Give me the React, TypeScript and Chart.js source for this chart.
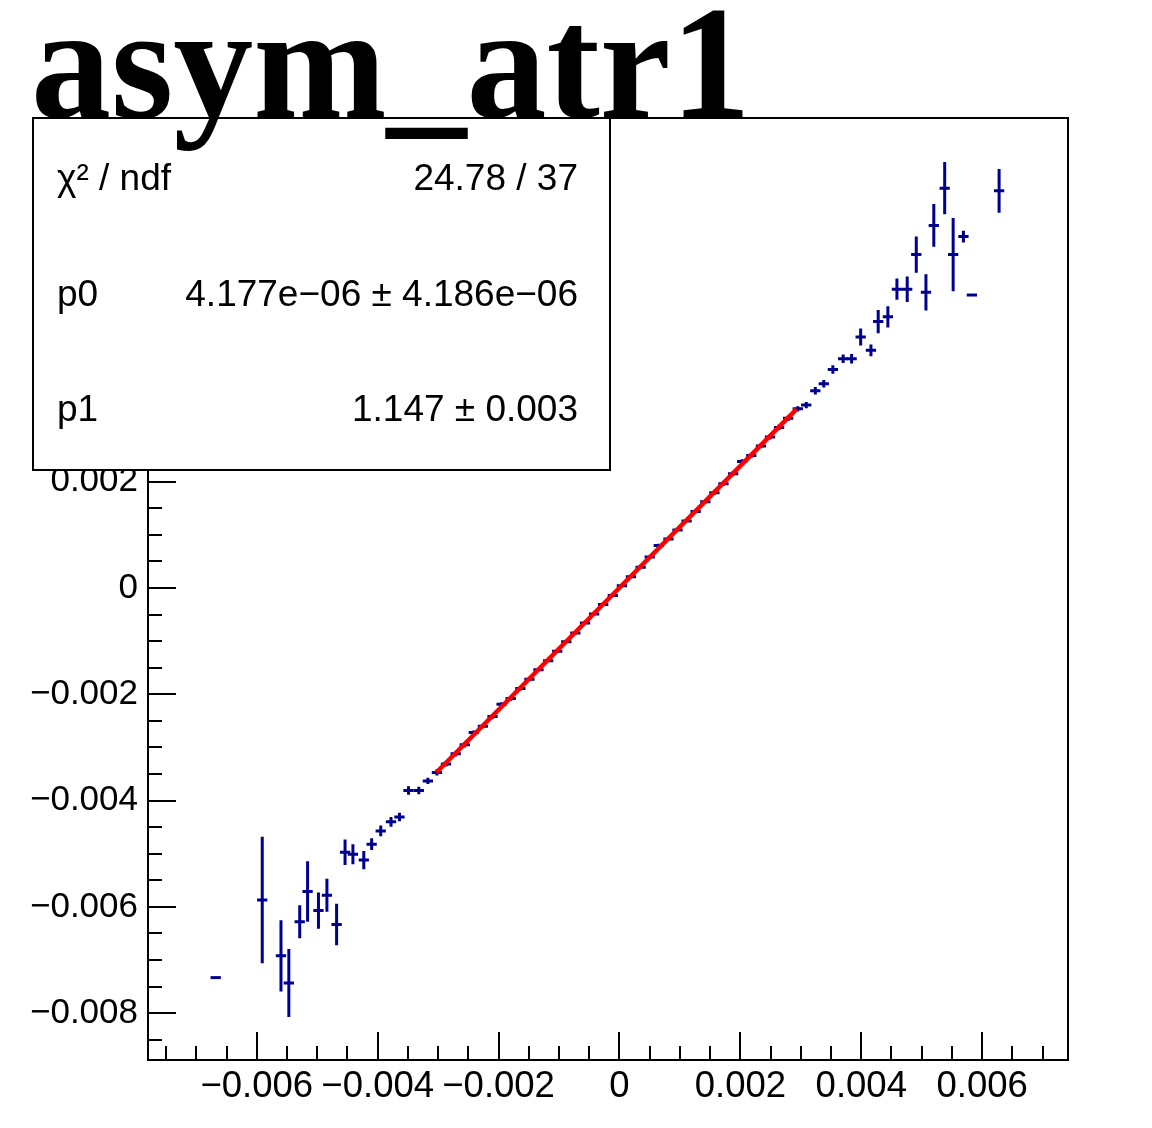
import React, { useEffect, useRef } from "react";
import { Chart, registerables } from "chart.js";

Chart.register(...registerables);

const TITLE = "asym_atr1";

// Histogram bin centres (x), contents (y) and vertical errors
const xValues = [
  -0.00668, -0.00591, -0.0056, -0.00547, -0.00529, -0.00516, -0.00498, -0.00484, -0.00468, -0.00454,
  -0.00441, -0.00423, -0.0041, -0.00395, -0.00378, -0.00364, -0.00349, -0.00332, -0.00317,
  -0.00302, -0.00287, -0.00271, -0.00256, -0.00241, -0.00226, -0.0021, -0.00195, -0.0018, -0.00164,
  -0.00149, -0.00134, -0.00118, -0.00103, -0.00088, -0.00073, -0.00057, -0.00042, -0.00027, -0.00011,
  0.00004, 0.00019, 0.00035, 0.0005, 0.00065, 0.00081, 0.00096, 0.00111, 0.00126, 0.00142,
  0.00157, 0.00172, 0.00188, 0.00203, 0.00218, 0.00234, 0.00249, 0.00264, 0.00279, 0.00295,
  0.00309, 0.00324, 0.00338, 0.00353, 0.0037, 0.00384, 0.00399, 0.00416, 0.00428, 0.00444,
  0.00459, 0.00476, 0.00491, 0.00507, 0.0052, 0.00538, 0.00552, 0.00569, 0.00583, 0.00628,
];
const yValues = [
  -0.00733, -0.00587, -0.00692, -0.00743, -0.00628, -0.00571, -0.00607, -0.00578, -0.00633, -0.00497,
  -0.00501, -0.00512, -0.00482, -0.00457, -0.0044, -0.00431, -0.00381, -0.00381, -0.00363,
  -0.00347, -0.00331, -0.00312, -0.00295, -0.00272, -0.0026, -0.00242, -0.00219, -0.00208, -0.00189,
  -0.00172, -0.00154, -0.00137, -0.00119, -0.00101, -0.00085, -0.00066, -0.00049, -0.00031, -0.00014,
  0.00004, 0.00021, 0.00039, 0.00058, 0.0008, 0.00092, 0.00109, 0.00126, 0.00144, 0.00162,
  0.00179, 0.00196, 0.00215, 0.00238, 0.00249, 0.00267, 0.00284, 0.00302, 0.00319, 0.00337,
  0.00344, 0.00371, 0.00384, 0.00411, 0.00431, 0.00431, 0.00472, 0.00447, 0.00501, 0.0051,
  0.00562, 0.00562, 0.00627, 0.00556, 0.00682, 0.00752, 0.00627, 0.00661, 0.00551, 0.00747,
];
const yErrors = [
  0, 0.00119, 0.00067, 0.00064, 0.00031, 0.00057, 0.00034, 0.00031, 0.00039, 0.00024,
  0.00019, 0.00017, 0.00011, 0.0001, 0.00009, 0.00008, 0.00008, 0.00007, 0.00006,
  0.00006, 0.00005, 0.00005, 0.00005, 0.00004, 0.00004, 0.00004, 0.00004, 0.00004, 0.00004,
  0.00003, 0.00003, 0.00003, 0.00003, 0.00003, 0.00003, 0.00003, 0.00003, 0.00003, 0.00003,
  0.00003, 0.00003, 0.00003, 0.00003, 0.00003, 0.00003, 0.00003, 0.00003, 0.00003, 0.00003,
  0.00004, 0.00004, 0.00004, 0.00004, 0.00004, 0.00004, 0.00005, 0.00005, 0.00005, 0.00005,
  0.00006, 0.00007, 0.00007, 0.00008, 0.00008, 0.00009, 0.00016, 0.00011, 0.00022, 0.0002,
  0.0002, 0.00024, 0.00034, 0.00034, 0.0004, 0.00049, 0.00069, 0.00011, 0, 0.00041,
];
const binHalfWidth = 0.000085;

// Linear fit pol1
const fitP0 = 4.177e-6;
const fitP1 = 1.147;
const fitRange = [-0.00303, 0.00293];

const statsLabels = ["\u03c7\u00b2 / ndf", "p0", "p1"];
const statsValues = ["24.78 / 37", "4.177e\u221206 \u00b1 4.186e\u221206", "1.147 \u00b1 0.003"];

const xRange = [-0.0078, 0.00742];
const yRange = [-0.00888, 0.00884];
const xTicks = [-0.006, -0.004, -0.002, 0, 0.002, 0.004, 0.006];
const xTickLabels = ["\u22120.006", "\u22120.004", "\u22120.002", "0", "0.002", "0.004", "0.006"];
const yTicks = [-0.008, -0.006, -0.004, -0.002, 0, 0.002, 0.004, 0.006, 0.008];
const yTickLabels = ["\u22120.008", "\u22120.006", "\u22120.004", "\u22120.002", "0", "0.002", "0.004", "0.006", "0.008"];
const minorStep = 0.0005;

const SANS = '"Liberation Sans", Arial, Helvetica, sans-serif';
const SERIF = '"Liberation Serif", "Times New Roman", serif';
const BLUE = "#00008f";

const rootPlugin = {
  id: "rootStyle",
  beforeDatasetsDraw(chart: any) {
    const ctx = chart.ctx;
    const xs = chart.scales.x;
    const ys = chart.scales.y;
    const a = chart.chartArea;
    ctx.save();
    ctx.beginPath();
    ctx.rect(a.left, a.top, a.right - a.left, a.bottom - a.top);
    ctx.clip();
    ctx.strokeStyle = BLUE;
    ctx.lineWidth = 3;
    ctx.lineCap = "butt";
    for (let i = 0; i < xValues.length; i++) {
      const px = xs.getPixelForValue(xValues[i]);
      const py = ys.getPixelForValue(yValues[i]);
      const pl = xs.getPixelForValue(xValues[i] - binHalfWidth);
      const pr = xs.getPixelForValue(xValues[i] + binHalfWidth);
      ctx.beginPath();
      ctx.moveTo(pl, py);
      ctx.lineTo(pr, py);
      if (yErrors[i] > 0) {
        ctx.moveTo(px, ys.getPixelForValue(yValues[i] + yErrors[i]));
        ctx.lineTo(px, ys.getPixelForValue(yValues[i] - yErrors[i]));
      }
      ctx.stroke();
    }
    ctx.restore();
  },
  afterDraw(chart: any) {
    const ctx = chart.ctx;
    const xs = chart.scales.x;
    const ys = chart.scales.y;
    const a = chart.chartArea;
    ctx.save();
    // frame
    ctx.strokeStyle = "#000";
    ctx.lineWidth = 2;
    ctx.strokeRect(a.left, a.top, a.right - a.left, a.bottom - a.top);
    // ticks
    ctx.lineWidth = 2;
    ctx.beginPath();
    const majorLen = 28;
    const minorLen = 14;
    const eps = 1e-9;
    for (let v = Math.ceil(xRange[0] / minorStep) * minorStep; v <= xRange[1] + eps; v += minorStep) {
      const isMajor = Math.abs(v / 0.002 - Math.round(v / 0.002)) < 1e-6;
      const px = Math.round(xs.getPixelForValue(v));
      ctx.moveTo(px, a.bottom);
      ctx.lineTo(px, a.bottom - (isMajor ? majorLen : minorLen));
    }
    for (let v = Math.ceil(yRange[0] / minorStep) * minorStep; v <= yRange[1] + eps; v += minorStep) {
      const isMajor = Math.abs(v / 0.002 - Math.round(v / 0.002)) < 1e-6;
      const py = Math.round(ys.getPixelForValue(v));
      ctx.moveTo(a.left, py);
      ctx.lineTo(a.left + (isMajor ? majorLen : minorLen), py);
    }
    ctx.stroke();
    // tick labels
    ctx.fillStyle = "#000";
    ctx.font = `36.5px ${SANS}`;
    ctx.textAlign = "center";
    ctx.textBaseline = "middle";
    xTicks.forEach((v, i) => {
      ctx.fillText(xTickLabels[i], xs.getPixelForValue(v), a.bottom + 27);
    });
    ctx.font = `35px ${SANS}`;
    ctx.textAlign = "right";
    yTicks.forEach((v, i) => {
      const py = ys.getPixelForValue(v);
      if (py < a.top - 5 || py > a.bottom + 5) return;
      ctx.fillText(yTickLabels[i], a.left - 10, py);
    });
    // stats box
    const bx = 33, by = 118, bw = 577, bh = 352;
    ctx.fillStyle = "#fff";
    ctx.fillRect(bx, by, bw, bh);
    ctx.strokeStyle = "#000";
    ctx.lineWidth = 2;
    ctx.strokeRect(bx, by, bw, bh);
    ctx.fillStyle = "#000";
    ctx.font = `37px ${SANS}`;
    ctx.textBaseline = "middle";
    const rowY = [180, 296, 411];
    statsLabels.forEach((lab, i) => {
      ctx.textAlign = "left";
      ctx.fillText(lab, 57, rowY[i]);
      ctx.textAlign = "right";
      ctx.fillText(statsValues[i], 578, rowY[i]);
    });
    // title
    ctx.font = `bold 160px ${SERIF}`;
    ctx.textAlign = "left";
    ctx.textBaseline = "alphabetic";
    ctx.fillText(TITLE, 31, 117);
    ctx.restore();
  },
};

export default function App() {
  const ref = useRef<HTMLCanvasElement | null>(null);
  useEffect(() => {
    document.body.style.margin = "0";
    const canvas = ref.current;
    if (!canvas) return;
    const points = xValues.map((x, i) => ({ x, y: yValues[i] }));
    const fitLine = fitRange.map((x) => ({ x, y: fitP0 + fitP1 * x }));
    const chart = new Chart(canvas, {
      type: "scatter",
      data: {
        datasets: [
          {
            label: "fit",
            data: fitLine,
            showLine: true,
            borderColor: "#ff0000",
            borderWidth: 4.5,
            pointRadius: 0,
            order: 0,
          },
          {
            label: "asym_atr1",
            data: points,
            pointRadius: 0,
            borderColor: BLUE,
            backgroundColor: BLUE,
            order: 1,
          },
        ],
      },
      options: {
        responsive: false,
        devicePixelRatio: 1,
        animation: false,
        layout: { padding: { left: 148, top: 118, right: 84, bottom: 68 } },
        scales: {
          x: { type: "linear", min: xRange[0], max: xRange[1], display: false },
          y: { type: "linear", min: yRange[0], max: yRange[1], display: false },
        },
        plugins: {
          legend: { display: false },
          tooltip: { enabled: false },
          title: { display: false },
        },
      },
      plugins: [rootPlugin],
    });
    return () => chart.destroy();
  }, []);
  return (
    <canvas
      ref={ref}
      width={1152}
      height={1128}
      style={{ display: "block", width: 1152, height: 1128, background: "#fff" }}
    />
  );
}
